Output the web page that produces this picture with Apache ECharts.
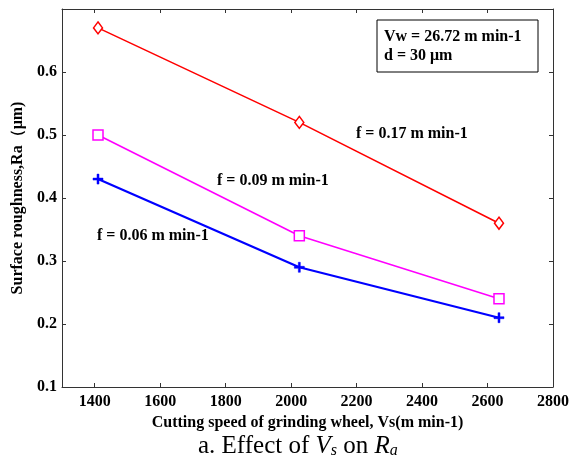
<!DOCTYPE html>
<html>
<head>
<meta charset="utf-8">
<script src="https://cdn.jsdelivr.net/npm/echarts@6/dist/echarts.min.js"></script>
<style>
html,body{margin:0;padding:0;background:#fff;}
#container{width:585px;height:457px;}
</style>
</head>
<body>
<div id="container"></div>
<script>
// 切削速度 Vs (m/min)
var speeds = [1410, 2025, 2635];
// 表面粗糙度 Ra
var raF017 = [0.67, 0.52, 0.36];
var raF009 = [0.50, 0.34, 0.24];
var raF006 = [0.43, 0.29, 0.21];
var xTicks = [1400, 1600, 1800, 2000, 2200, 2400, 2600, 2800];
var yTicks = [0.1, 0.2, 0.3, 0.4, 0.5, 0.6, 0.7];

function pairs(xs, ys){
    var out = [];
    for(var i=0;i<xs.length;i++){
        out.push([xs[i], ys[i]]);
    }
    return out;
}

var serif = '"Liberation Serif", "Times New Roman", serif';
var axisColor = '#333';

var dom = document.getElementById("container");
var myChart = echarts.init(dom);

var option = {
    animation: false,
    backgroundColor: '#fff',
    grid: {left: 62, top: 9, right: 32, bottom: 70},
    title: {
        text: 'a. Effect of {i|V}{sub|s} on {i|R}{sub|a}',
        left: 193,
        top: 428,
        textStyle: {
            fontFamily: serif,
            fontWeight: 'normal',
            fontSize: 25,
            color: '#000',
            rich: {
                i: {fontFamily: serif, fontStyle: 'italic', fontSize: 25, color: '#000'},
                sub: {fontFamily: serif, fontStyle: 'italic', fontSize: 16, color: '#000', verticalAlign: 'bottom', padding: [10, 0, 0, 0]}
            }
        }
    },
    xAxis: [
        {
            type: 'value',
            min: 1300,
            max: 2800,
            name: 'Cutting speed of grinding wheel, Vs(m min-1)',
            nameLocation: 'middle',
            nameGap: 28,
            nameTextStyle: {fontFamily: serif, fontWeight: 'bold', fontSize: 16, color: '#000'},
            axisLine: {onZero: false, lineStyle: {color: axisColor, width: 1}},
            axisTick: {inside: true, length: 4, customValues: xTicks, lineStyle: {color: axisColor}},
            axisLabel: {
                customValues: xTicks,
                formatter: function (v) { return String(v); },
                fontFamily: serif, fontWeight: 'bold', fontSize: 16, color: '#000', margin: 7
            },
            splitLine: {show: false}
        },
        {
            type: 'value',
            position: 'top',
            min: 1300,
            max: 2800,
            axisLine: {onZero: false, lineStyle: {color: axisColor, width: 1}},
            axisTick: {inside: true, length: 4, customValues: xTicks, lineStyle: {color: axisColor}},
            axisLabel: {show: false},
            splitLine: {show: false}
        }
    ],
    yAxis: [
        {
            type: 'value',
            min: 0.1,
            max: 0.7,
            name: 'Surface roughness,Ra\uFF08\u03BCm)',
            nameLocation: 'middle',
            nameGap: 36,
            nameTextStyle: {fontFamily: serif, fontWeight: 'bold', fontSize: 16, color: '#000'},
            axisLine: {onZero: false, lineStyle: {color: axisColor, width: 1}},
            axisTick: {inside: true, length: 4, customValues: yTicks, lineStyle: {color: axisColor}},
            axisLabel: {customValues: yTicks.slice(0, 6), fontFamily: serif, fontWeight: 'bold', fontSize: 16, color: '#000', margin: 5},
            splitLine: {show: false}
        },
        {
            type: 'value',
            position: 'right',
            min: 0.1,
            max: 0.7,
            axisLine: {onZero: false, lineStyle: {color: axisColor, width: 1}},
            axisTick: {inside: true, length: 4, customValues: yTicks, lineStyle: {color: axisColor}},
            axisLabel: {show: false},
            splitLine: {show: false}
        }
    ],
    graphic: [
        {
            type: 'rect',
            shape: {x: 377, y: 20, width: 161, height: 52},
            style: {fill: '#fff', stroke: '#000', lineWidth: 1}
        },
        {
            type: 'text',
            left: 384,
            top: 27,
            style: {
                text: 'Vw = 26.72 m min-1\nd = 30 \u03BCm',
                font: 'bold 16px ' + serif,
                lineHeight: 19,
                fill: '#000'
            }
        },
        {
            type: 'text',
            left: 356,
            top: 126,
            style: {text: 'f = 0.17 m min-1', font: 'bold 16px ' + serif, fill: '#000'}
        },
        {
            type: 'text',
            left: 217,
            top: 173,
            style: {text: 'f = 0.09 m min-1', font: 'bold 16px ' + serif, fill: '#000'}
        },
        {
            type: 'text',
            left: 97,
            top: 228,
            style: {text: 'f = 0.06 m min-1', font: 'bold 16px ' + serif, fill: '#000'}
        }
    ],
    series: [
        {
            name: 'f = 0.17',
            type: 'line',
            data: pairs(speeds, raF017),
            symbol: 'diamond',
            symbolSize: [9, 12],
            itemStyle: {color: '#fff', borderColor: '#ff0000', borderWidth: 1.5},
            lineStyle: {color: '#ff0000', width: 1.6}
        },
        {
            name: 'f = 0.09',
            type: 'line',
            data: pairs(speeds, raF009),
            symbol: 'rect',
            symbolSize: 10,
            itemStyle: {color: '#fff', borderColor: '#ff00ff', borderWidth: 1.5},
            lineStyle: {color: '#ff00ff', width: 1.6}
        },
        {
            name: 'f = 0.06',
            type: 'line',
            data: pairs(speeds, raF006),
            symbol: 'path://M4,0 L6,0 L6,4 L10,4 L10,6 L6,6 L6,10 L4,10 L4,6 L0,6 L0,4 L4,4 Z',
            symbolSize: 10,
            itemStyle: {color: '#0000ff', borderColor: '#0000ff', borderWidth: 0.5},
            lineStyle: {color: '#0000ff', width: 2.2}
        }
    ]
};

if (option && typeof option === "object") {
    myChart.setOption(option, true);
}
</script>
</body>
</html>
